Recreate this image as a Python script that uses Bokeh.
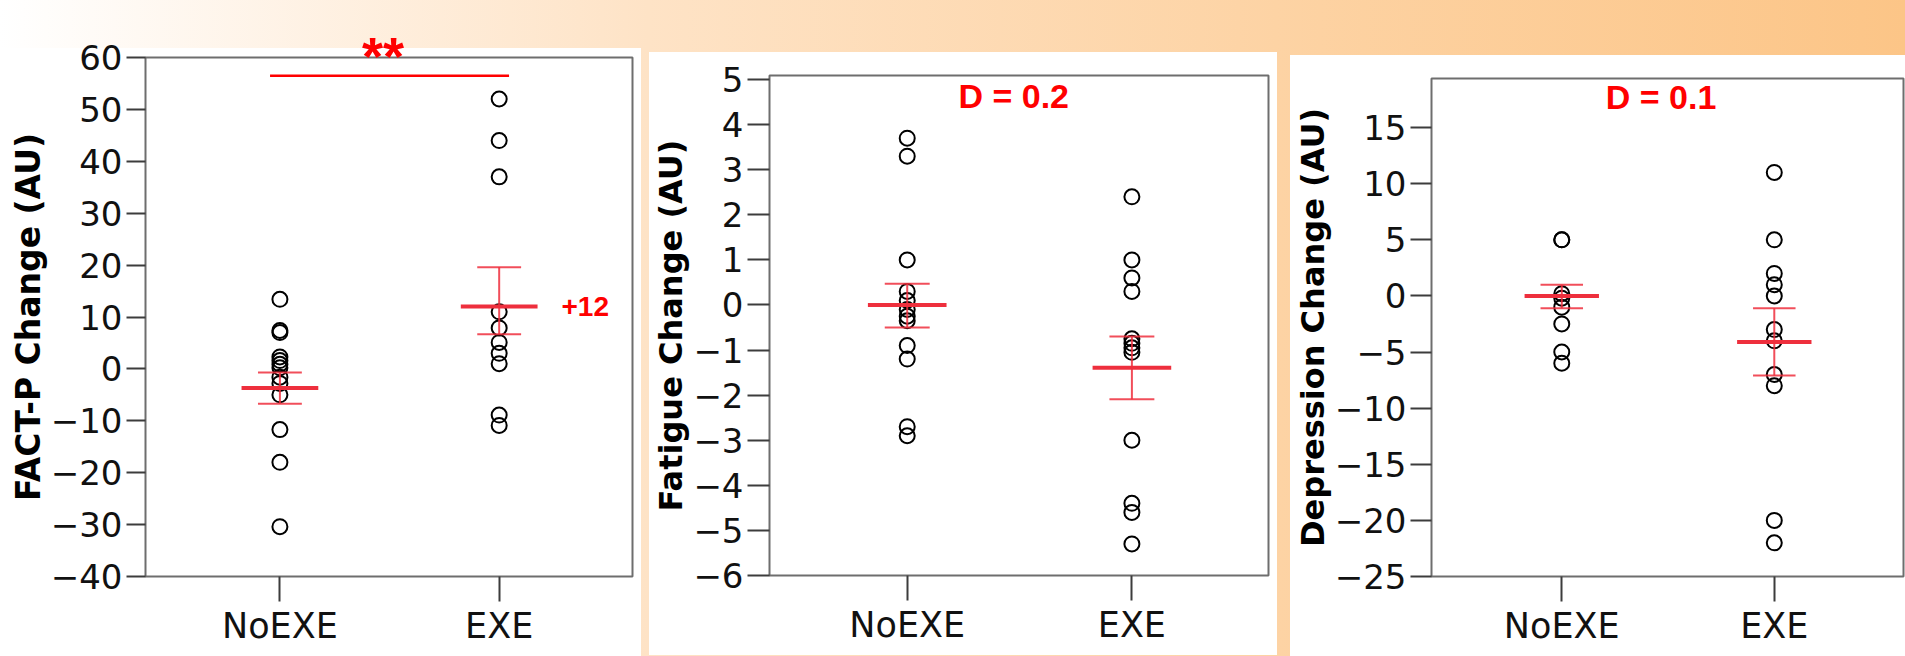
from bokeh.embed import file_html
from bokeh.layouts import row
from bokeh.models import ColumnDataSource, FixedTicker, Label, LinearAxis, Range1d
from bokeh.plotting import figure
from bokeh.resources import INLINE

# Groups on the x axis
groups = ["NoEXE", "EXE"]
group_pos = [1, 2]

# FACT-P change per participant
factp_noexe = [13.4, 7.4, 7.0, 2.3, 1.6, 0.9, 0.2, -1.6, -2.8, -5.0, -11.7, -18.0, -30.4]
factp_exe = [52.0, 44.0, 37.0, 11.0, 7.9, 5.1, 3.0, 1.0, -8.9, -10.9]
factp_mean = [-3.7, 12.0]
factp_low = [-6.7, 6.7]
factp_high = [-0.7, 19.6]
factp_ticks = [-40, -30, -20, -10, 0, 10, 20, 30, 40, 50, 60]
factp_bracket_y = 56.5
factp_signif = "**"

# Fatigue change per participant
fatigue_noexe = [3.7, 3.3, 1.0, 0.3, 0.1, -0.1, -0.25, -0.35, -0.9, -1.2, -2.7, -2.9]
fatigue_exe = [2.4, 1.0, 0.6, 0.3, -0.75, -0.85, -0.95, -1.05, -3.0, -4.4, -4.6, -5.3]
fatigue_mean = [0.0, -1.39]
fatigue_low = [-0.5, -2.09]
fatigue_high = [0.47, -0.7]
fatigue_ticks = [-6, -5, -4, -3, -2, -1, 0, 1, 2, 3, 4, 5]
fatigue_d = 0.2

# Depression change per participant
depression_noexe = [5.0, 5.0, 0.2, -0.2, -1.0, -2.5, -5.0, -6.0]
depression_exe = [11.0, 5.0, 2.0, 1.0, 0.0, -3.0, -4.0, -7.0, -8.0, -20.0, -22.0]
depression_mean = [0.0, -4.1]
depression_low = [-1.1, -7.1]
depression_high = [1.0, -1.1]
depression_ticks = [-25, -20, -15, -10, -5, 0, 5, 10, 15]
depression_d = 0.1

X_RANGE = (0.387, 2.608)
SIGNIF_X = 1.47
RED = "#ff0000"
BAR_RED = "#ee2f3d"
FRAME_GREY = "#6e6e6e"
TICK_GREY = "#3c3c3c"
CAP_HALF = 0.1
MEAN_HALF = 0.175


def signed(v):
    return f"{v:g}".replace("-", "\u2212")


def white_below(px):
    """CSS background: transparent strip of `px` pixels on top, white panel below."""
    return {"background": f"linear-gradient(to bottom, rgba(255,255,255,0) 0px, "
                          f"rgba(255,255,255,0) {px}px, #ffffff {px}px, #ffffff 100%)"}


def panel(width, height, margin, borders, y_range, ticks, title, title_size,
          y_tick_len, noexe, exe, means, lows, highs, strip):
    left, right, top, bottom = borders
    p = figure(width=width, height=height, margin=margin,
               x_range=Range1d(*X_RANGE), y_range=Range1d(*y_range),
               output_backend="svg", toolbar_location=None,
               min_border_left=left, min_border_right=right,
               min_border_top=top, min_border_bottom=bottom,
               border_fill_alpha=0, styles=white_below(strip))
    p.grid.visible = False
    p.background_fill_color = "white"
    p.outline_line_color = FRAME_GREY
    p.outline_line_width = 2

    xa = p.xaxis[0]
    xa.ticker = FixedTicker(ticks=group_pos)
    xa.major_label_overrides = {g: name for g, name in zip(group_pos, groups)}
    xa.axis_line_color = None
    xa.major_tick_in = 0
    xa.major_tick_out = 25
    xa.major_tick_line_color = TICK_GREY
    xa.major_tick_line_width = 2
    xa.minor_tick_line_color = None
    xa.major_label_text_font = "DejaVu Sans"
    xa.major_label_text_font_size = "35px"
    xa.major_label_text_color = "#111111"
    xa.major_label_standoff = 4

    ya = p.yaxis[0]
    ya.ticker = FixedTicker(ticks=ticks)
    ya.major_label_overrides = {t: signed(t) for t in ticks}
    ya.axis_line_color = None
    ya.major_tick_in = 0
    ya.major_tick_out = y_tick_len
    ya.major_tick_line_color = TICK_GREY
    ya.major_tick_line_width = 2
    ya.minor_tick_line_color = None
    ya.major_label_text_font = "DejaVu Sans"
    ya.major_label_text_font_size = "34px"
    ya.major_label_text_color = "#111111"
    ya.major_label_standoff = 4
    ya.axis_label = title
    ya.axis_label_text_font = "DejaVu Sans"
    ya.axis_label_text_font_style = "bold"
    ya.axis_label_text_font_size = f"{title_size}px"
    ya.axis_label_text_color = "#000000"
    ya.axis_label_standoff = 0

    # individual participants, stacked on the group position
    pts = ColumnDataSource(dict(
        x=[group_pos[0]] * len(noexe) + [group_pos[1]] * len(exe),
        y=list(noexe) + list(exe),
    ))
    p.scatter("x", "y", source=pts, marker="circle", size=15,
              fill_color=None, line_color="black", line_width=2)

    # mean with error bars
    bars = ColumnDataSource(dict(x=group_pos, low=lows, high=highs))
    p.segment(x0="x", x1="x", y0="low", y1="high", source=bars,
              line_color=BAR_RED, line_width=2, line_alpha=0.85)
    caps = ColumnDataSource(dict(
        x0=[g - CAP_HALF for g in group_pos] * 2,
        x1=[g + CAP_HALF for g in group_pos] * 2,
        y=list(lows) + list(highs),
    ))
    p.segment(x0="x0", x1="x1", y0="y", y1="y", source=caps,
              line_color=BAR_RED, line_width=2, line_alpha=0.85)
    mean_src = ColumnDataSource(dict(
        x0=[g - MEAN_HALF for g in group_pos],
        x1=[g + MEAN_HALF for g in group_pos],
        y=means,
    ))
    p.segment(x0="x0", x1="x1", y0="y", y1="y", source=mean_src,
              line_color=BAR_RED, line_width=4)
    return p


# FACT-P panel (white from y=48; the asterisks reach up onto the banner)
p1 = panel(641, 634, (22, 0, 0, 0), (145, 9, 34, 80), (-40, 60), factp_ticks,
           "FACT-P Change (AU)", 33, 19, factp_noexe, factp_exe,
           factp_mean, factp_low, factp_high, strip=26)
p1.segment(x0=[0.955], x1=[2.045], y0=[factp_bracket_y], y1=[factp_bracket_y],
           line_color=RED, line_width=2.5)
# significance marker sits above the frame, carried by a bare top axis
signif_axis = LinearAxis(ticker=FixedTicker(ticks=[SIGNIF_X]),
                         major_label_overrides={SIGNIF_X: factp_signif},
                         axis_line_color=None, major_tick_line_color=None,
                         minor_tick_line_color=None, major_tick_in=0, major_tick_out=0,
                         major_label_standoff=-28,
                         major_label_text_font="Liberation Sans",
                         major_label_text_font_style="bold",
                         major_label_text_font_size="54px",
                         major_label_text_color=RED)
p1.add_layout(signif_axis, "above")
p1.add_layout(Label(x=2.284, y=factp_mean[1], text=f"+{factp_mean[1]:g}",
                    text_align="left", text_baseline="middle",
                    text_font="Liberation Sans", text_font_style="bold",
                    text_font_size="28px", text_color=RED))

# Fatigue panel (white from y=52)
p2 = panel(628, 615, (40, 0, 0, 8), (116, 9, 21, 79), (-6, 5.09), fatigue_ticks,
           "Fatigue Change (AU)", 32, 22, fatigue_noexe, fatigue_exe,
           fatigue_mean, fatigue_low, fatigue_high, strip=12)
p2.add_layout(Label(x=1.474, y=4.52, y_offset=5, text=f"D = {fatigue_d:g}",
                    text_align="center", text_baseline="middle",
                    text_font="Liberation Sans", text_font_style="bold",
                    text_font_size="34px", text_color=RED))

# Depression panel (white from y=55)
p3 = panel(615, 613, (43, 0, 0, 13), (131, 2, 21, 78), (-25, 19.37), depression_ticks,
           "Depression Change (AU)", 32, 21, depression_noexe, depression_exe,
           depression_mean, depression_low, depression_high, strip=12)
p3.add_layout(Label(x=1.467, y=17.27, y_offset=5, text=f"D = {depression_d:g}",
                    text_align="center", text_baseline="middle",
                    text_font="Liberation Sans", text_font_style="bold",
                    text_font_size="34px", text_color=RED))

layout = row(p1, p2, p3, spacing=0,
             styles={"background": "linear-gradient(to right, #ffffff 0%, #fee3c6 34%, "
                                   "#fdd3a4 67%, #fcc587 100%)"})

open("out.html", "w").write(file_html(layout, INLINE))
